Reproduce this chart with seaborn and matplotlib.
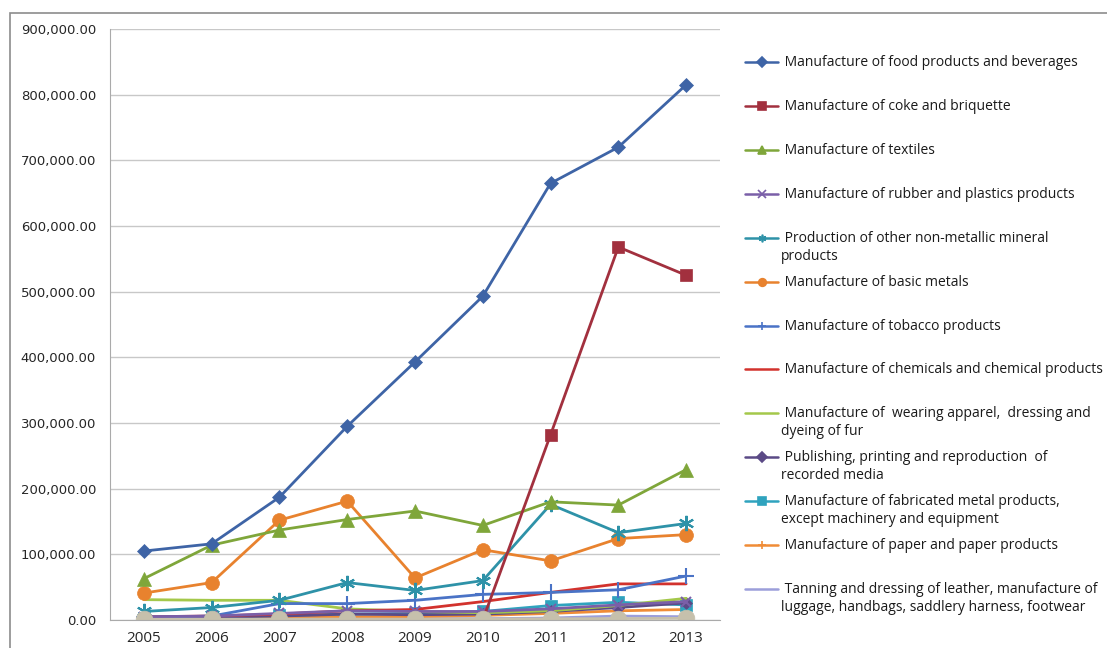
import matplotlib
matplotlib.use("Agg")
import matplotlib.pyplot as plt
import matplotlib.ticker as mticker
from matplotlib.patches import Rectangle
import seaborn as sns

years = [2005, 2006, 2007, 2008, 2009, 2010, 2011, 2012, 2013]

food = [105000, 116000, 187000, 295000, 393000, 493000, 665000, 720000, 815000]
coke = [0, 0, 0, 0, 0, 0, 282000, 568000, 525000]
textiles = [63000, 114000, 137000, 153000, 166000, 144000, 180000, 175000, 229000]
rubber = [5000, 6000, 10000, 14000, 13000, 13000, 17000, 23000, 28000]
non_metallic = [13000, 19000, 30000, 57000, 45000, 60000, 176000, 133000, 147000]
basic_metals = [41000, 57000, 152000, 181000, 64000, 107000, 90000, 124000, 130000]
tobacco = [4000, 6000, 25000, 25000, 30000, 39000, 42000, 46000, 67000]
chemicals = [5000, 6000, 9000, 14000, 16000, 28000, 42000, 55000, 55000]
apparel = [31000, 30000, 30000, 17000, 13000, 11000, 14000, 22000, 33000]
publishing = [3000, 4000, 6000, 9000, 8000, 9000, 13000, 19000, 26000]
fabricated = [3000, 5000, 7000, 9000, 10000, 13000, 22000, 27000, 23000]
paper = [2000, 3000, 4000, 5000, 5000, 7000, 10000, 14000, 16000]
leather = [1000, 1000, 2000, 2000, 2000, 2000, 3000, 6000, 5000]
other = [1000, 1200, 1300, 1500, 1400, 1600, 1800, 2200, 2500]  # series cut off from the legend

labels = [
    " Manufacture of food products and beverages",
    " Manufacture of coke and briquette",
    " Manufacture of textiles",
    " Manufacture of rubber and plastics products",
    " Production of other non-metallic mineral\nproducts",
    " Manufacture of basic metals",
    " Manufacture of tobacco products",
    " Manufacture of chemicals and chemical products",
    " Manufacture of  wearing apparel,  dressing and\ndyeing of fur",
    " Publishing, printing and reproduction  of\nrecorded media",
    " Manufacture of fabricated metal products,\nexcept machinery and equipment",
    " Manufacture of paper and paper products",
    " Tanning and dressing of leather, manufacture of\nluggage, handbags, saddlery harness, footwear",
]

# (values, colour, marker, marker size) in drawing order
series = [
    (leather, "#9C9FDA", None, 0),
    (paper, "#F08C36", "+", 9),
    (fabricated, "#2FA3BE", "s", 9),
    (publishing, "#5B4A86", "D", 6),
    (apparel, "#A4C84A", None, 0),
    (chemicals, "#D2322D", None, 0),
    (tobacco, "#4A73C6", "+", 12),
    (basic_metals, "#E8822E", "o", 10),
    (non_metallic, "#2E92A8", (6, 2, 0), 11),
    (rubber, "#7A5FA8", "x", 7),
    (textiles, "#7FA63A", "^", 10),
    (coke, "#A2303E", "s", 9),
    (other, "#C6C0AC", "o", 12),
    (food, "#3E64A6", "D", 7),
]
legend_style = {
    0: ("#3E64A6", "D"), 1: ("#A2303E", "s"), 2: ("#7FA63A", "^"),
    3: ("#7A5FA8", "x"), 4: ("#2E92A8", (6, 2, 0)), 5: ("#E8822E", "o"),
    6: ("#4A73C6", "+"), 7: ("#D2322D", None), 8: ("#A4C84A", None),
    9: ("#5B4A86", "D"), 10: ("#2FA3BE", "s"), 11: ("#F08C36", "+"),
    12: ("#9C9FDA", None),
}

sns.set_style("white")
plt.rcParams["font.family"] = ["DejaVu Sans"]

fig = plt.figure(figsize=(11.07, 6.48), dpi=100)
ax = fig.add_axes([110 / 1107, 1 - 620 / 648, 610 / 1107, 591 / 648])

for vals, color, marker, ms in series:
    sns.lineplot(x=years, y=vals, ax=ax, color=color, linewidth=2.0,
                 marker=marker, markersize=ms, markeredgecolor=color,
                 markeredgewidth=1.5 if marker in ("+", "x", (6, 2, 0)) else 0.5)

ax.set_xlim(2004.5, 2013.5)
ax.set_ylim(0, 900000)
ax.set_xticks(years)
ax.set_xticklabels([str(y) for y in years], fontfamily="Open Sans", fontsize=11)
ax.xaxis.set_minor_locator(mticker.FixedLocator([y - 0.5 for y in years] + [2013.5]))
ax.tick_params(axis="x", which="major", length=0, pad=8)
ax.tick_params(axis="x", which="minor", length=5, color="#AAAAAA", direction="out")
ax.set_yticks(range(0, 900001, 100000))
ax.yaxis.set_major_formatter(mticker.FuncFormatter(lambda v, p: f"{v:,.2f}"))
ax.tick_params(axis="y", length=4, color="#AAAAAA", direction="out", pad=6, labelsize=9.5)
ax.grid(axis="y", color="#C8C8C8", linewidth=1)
ax.set_axisbelow(True)
for s in ("top", "right"):
    ax.spines[s].set_visible(False)
ax.spines["left"].set_color("#AAAAAA")
ax.spines["bottom"].set_color("#AAAAAA")
ax.set_xlabel("")
ax.set_ylabel("")

# legend drawn to the right, Excel style
lax = fig.add_axes([0, 0, 1, 1])
lax.set_xlim(0, 1107)
lax.set_ylim(648, 0)
lax.axis("off")
lax.patch.set_alpha(0)
for i, lab in enumerate(labels):
    yy = 62 + 44 * i - (1 if i > 6 else 0)
    color, marker = legend_style[i]
    lax.plot([745, 761.5, 778], [yy, yy, yy], color=color, linewidth=1.8,
             marker=marker, markevery=[1], markersize=5.5, markeredgecolor=color,
             markeredgewidth=1.2)
    lax.text(781, yy - 7, lab, fontfamily="Open Sans", fontsize=10,
             va="top", ha="left", color="#1A1A1A", linespacing=1.25)

# outer chart frame
fig.patches.append(Rectangle((10 / 1107, -0.1), 1.2, 1.1 - 13 / 648,
                             transform=fig.transFigure, fill=False,
                             edgecolor="#8C8C8C", linewidth=1.2))

fig.savefig("out.png", dpi=100, facecolor="white")
